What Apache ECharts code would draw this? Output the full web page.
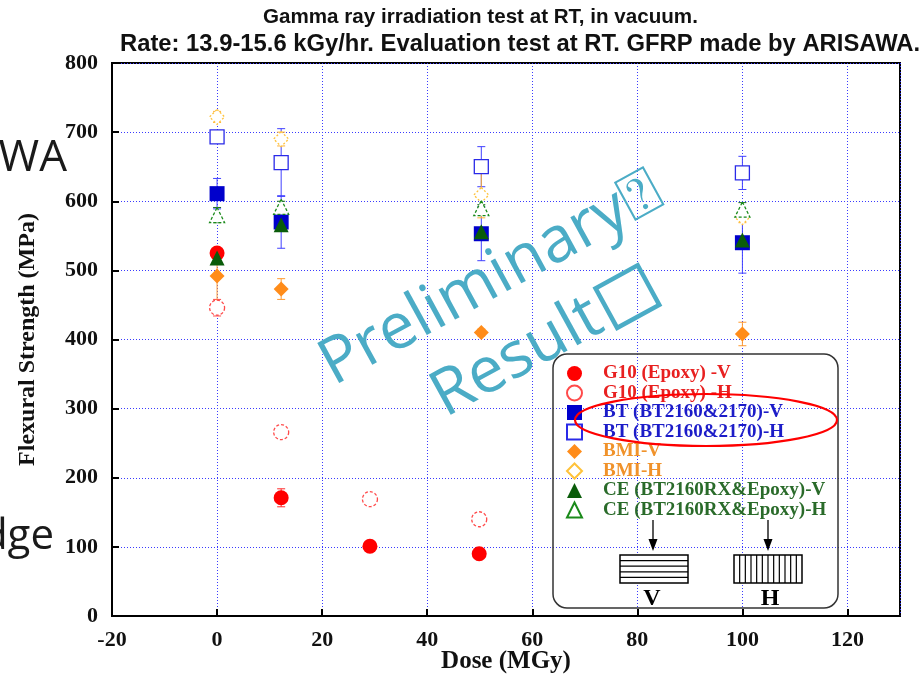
<!DOCTYPE html>
<html>
<head>
<meta charset="utf-8">
<title>Gamma ray irradiation test</title>
<script src="https://cdn.jsdelivr.net/npm/echarts@6/dist/echarts.min.js"></script>
<style>
  html, body { margin: 0; background: #fff; }
  #chart { width: 924px; height: 677px; }
</style>
</head>
<body>
<div id="chart"></div>
<script>
const chart = echarts.init(document.getElementById('chart'));

// dose (MGy)
const doseG10 = [0, 12.2, 29.1, 49.9];
const doseOther = [0, 12.2, 50.3, 100];

// flexural strength (MPa) and error half-widths
const g10V = [525, 171, 101, 90];
const g10VErr = [6, 13, 4, 4];
const g10H = [446, 266, 169, 140];
const g10HErr = [12, 8, 8, 8];
const btV = [611, 570, 553, 540];
const btVErr = [22, 38, 39, 44];
const btH = [693, 656, 650, 641];
const btHErr = [8, 49, 29, 24];
const bmiV = [492, 473, 410, 408];
const bmiVErr = [40, 15, 5, 17];
const bmiH = [722, 690, 609, 577];
const bmiHErr = [8, 10, 33, 8];
const ceV = [518, 566, 556, 544];
const ceVErr = [5, 8, 5, 5];
const ceH = [580, 592, 590, 588];
const ceHErr = [11, 8, 5, 10];

const groups = [
  { name: 'G10 (Epoxy) -V', x: doseG10, y: g10V, err: g10VErr, symbol: 'circle', size: 15,
    fill: '#ff0000', stroke: '#ff0000', dash: 'solid', bar: '#ff2a2a', text: '#e82020' },
  { name: 'G10 (Epoxy) -H', x: doseG10, y: g10H, err: g10HErr, symbol: 'circle', size: 15,
    fill: '#ffffff', stroke: '#ff4a4a', dash: [3, 2], bar: '#ff4a4a', text: '#e82020' },
  { name: 'BT (BT2160&2170)-V', x: doseOther, y: btV, err: btVErr, symbol: 'rect', size: 15,
    fill: '#0000cc', stroke: '#0000cc', dash: 'solid', bar: '#4040ff', text: '#1c1cc8' },
  { name: 'BT (BT2160&2170)-H', x: doseOther, y: btH, err: btHErr, symbol: 'rect', size: 14,
    fill: '#ffffff', stroke: '#2a2ae8', dash: 'solid', bar: '#4040ff', text: '#1c1cc8' },
  { name: 'BMI-V', x: doseOther, y: bmiV, err: bmiVErr, symbol: 'diamond', size: 15,
    fill: '#ff8c1a', stroke: '#ff8c1a', dash: 'solid', bar: '#ff9a30', text: '#f0922a' },
  { name: 'BMI-H', x: doseOther, y: bmiH, err: bmiHErr, symbol: 'diamond', size: 15,
    fill: '#ffffff', stroke: '#ffc23a', dash: [2, 2], bar: '#ffb030', text: '#f0922a' },
  { name: 'CE (BT2160RX&Epoxy)-V', x: doseOther, y: ceV, err: ceVErr, symbol: 'triangle', size: 15,
    fill: '#0a5c0a', stroke: '#0a5c0a', dash: 'solid', bar: '#1a6e1a', text: '#2a6b2a' },
  { name: 'CE (BT2160RX&Epoxy)-H', x: doseOther, y: ceH, err: ceHErr, symbol: 'triangle', size: 15,
    fill: '#ffffff', stroke: '#1a8a1a', dash: [3, 2], bar: '#1a6e1a', text: '#2a6b2a' }
];

function errorBar(color) {
  return (params, api) => {
    const x = api.value(0);
    const lo = api.coord([x, api.value(1)]);
    const hi = api.coord([x, api.value(2)]);
    const w = 4;
    const style = { stroke: color, lineWidth: 1 };
    return {
      type: 'group',
      children: [
        { type: 'line', shape: { x1: lo[0], y1: lo[1], x2: hi[0], y2: hi[1] }, style },
        { type: 'line', shape: { x1: hi[0] - w, y1: hi[1], x2: hi[0] + w, y2: hi[1] }, style },
        { type: 'line', shape: { x1: lo[0] - w, y1: lo[1], x2: lo[0] + w, y2: lo[1] }, style }
      ]
    };
  };
}

const series = [];
groups.forEach((g, k) => {
  series.push({
    type: 'custom',
    name: 'err' + k,
    silent: true,
    renderItem: errorBar(g.bar),
    encode: { x: 0, y: [1, 2] },
    data: g.x.map((v, i) => [v, g.y[i] - g.err[i], g.y[i] + g.err[i]])
  });
  series.push({
    type: 'scatter',
    name: g.name,
    symbol: g.symbol,
    symbolSize: g.size,
    itemStyle: { color: g.fill, borderColor: g.stroke, borderWidth: g.fill === '#ffffff' ? 1.3 : 0, borderType: g.dash, opacity: 1 },
    data: g.x.map((v, i) => [v, g.y[i]])
  });
});

const serif = 'Liberation Serif';
const gridLine = { color: '#3a3aff', type: [1, 2], width: 1 };
const teal = '#4bacc6';

const deco = [];
// legend frame
deco.push({ type: 'rect', shape: { x: 553, y: 354, width: 285, height: 254, r: 14 },
  style: { fill: 'none', stroke: '#333', lineWidth: 1.5 }, z: 5 });
// V specimen
deco.push({ type: 'rect', shape: { x: 620, y: 555, width: 68, height: 28 },
  style: { fill: '#fff', stroke: '#000', lineWidth: 1.5 }, z: 6 });
for (let i = 1; i < 5; i++) {
  const yy = 555 + i * 5.6;
  deco.push({ type: 'line', shape: { x1: 620, y1: yy, x2: 688, y2: yy }, style: { stroke: '#000', lineWidth: 1.2 }, z: 7 });
}
// H specimen
deco.push({ type: 'rect', shape: { x: 734, y: 555, width: 68, height: 28 },
  style: { fill: '#fff', stroke: '#000', lineWidth: 1.5 }, z: 6 });
for (let i = 1; i < 12; i++) {
  const xx = 734 + i * 68 / 12;
  deco.push({ type: 'line', shape: { x1: xx, y1: 555, x2: xx, y2: 583 }, style: { stroke: '#000', lineWidth: 1.2 }, z: 7 });
}
[653, 768].forEach((ax) => {
  deco.push({ type: 'line', shape: { x1: ax, y1: 520, x2: ax, y2: 542 }, style: { stroke: '#000', lineWidth: 1.3 }, z: 7 });
  deco.push({ type: 'polygon', shape: { points: [[ax - 4.5, 539], [ax + 4.5, 539], [ax, 551]] }, style: { fill: '#000' }, z: 7 });
});
deco.push({ type: 'text', x: 652, y: 599, z: 7,
  style: { text: 'V', font: 'bold 24px "Liberation Serif"', fill: '#000', align: 'center', verticalAlign: 'middle' } });
deco.push({ type: 'text', x: 770, y: 599, z: 7,
  style: { text: 'H', font: 'bold 24px "Liberation Serif"', fill: '#000', align: 'center', verticalAlign: 'middle' } });
// red ellipse
deco.push({ type: 'ellipse', shape: { cx: 706, cy: 420, rx: 131, ry: 26 },
  style: { fill: 'none', stroke: '#ff0000', lineWidth: 2.2 }, z: 60 });
// titles
deco.push({ type: 'text', x: 263, y: 17, z: 10,
  style: { text: 'Gamma ray irradiation test at RT, in vacuum.', font: 'bold 20.6px "Liberation Sans"', fill: '#111', verticalAlign: 'middle' } });
deco.push({ type: 'text', x: 120, y: 44, z: 10,
  style: { text: 'Rate: 13.9-15.6 kGy/hr. Evaluation test at RT. GFRP made by ARISAWA.', font: 'bold 23.8px "Liberation Sans"', fill: '#111', verticalAlign: 'middle' } });
// x axis name
deco.push({ type: 'text', x: 506, y: 662, z: 10,
  style: { text: 'Dose (MGy)', font: 'bold 25px "Liberation Serif"', fill: '#111', align: 'center', verticalAlign: 'middle' } });
// slide fragments behind the chart
deco.push({ type: 'text', x: 67, y: 158, z: 1,
  style: { text: 'AWA', font: '44px "Open Sans"', fill: '#1a1a1a', align: 'right', verticalAlign: 'middle' } });
deco.push({ type: 'text', x: 54, y: 537, z: 1,
  style: { text: 'dge', font: '42px "Open Sans"', fill: '#1a1a1a', align: 'right', verticalAlign: 'middle' } });
// watermark
const rot = 28.7 * Math.PI / 180;
deco.push({ type: 'text', x: 325, y: 370, rotation: rot, z: 80,
  style: { text: 'Preliminary⍰', font: '64px "Open Sans"', fill: teal, align: 'left', verticalAlign: 'middle' } });
deco.push({ type: 'group', x: 447, y: 421, rotation: rot, z: 80, children: [
  { type: 'text', x: 0, y: -22, z: 80,
    style: { text: 'Result', font: '64px "Open Sans"', fill: teal, align: 'left', verticalAlign: 'middle' } },
  { type: 'rect', shape: { x: 194, y: -45, width: 48, height: 45 }, z: 80,
    style: { fill: 'none', stroke: teal, lineWidth: 4.5 } }
] });

chart.setOption({
  backgroundColor: '#fff',
  animation: false,
  grid: { left: 112, top: 63, width: 788, height: 553, outerBoundsMode: 'none', containLabel: false,
    show: true, borderColor: '#000', borderWidth: 2 },
  xAxis: {
    type: 'value', min: -20, max: 130, interval: 20,
    axisLine: { show: true, onZero: false, lineStyle: { color: '#000', width: 2 } },
    axisTick: { show: true, inside: true, length: 7, lineStyle: { color: '#000', width: 2 } },
    axisLabel: { showMaxLabel: false, margin: 13, fontFamily: serif, fontWeight: 'bold', fontSize: 22, color: '#111' },
    splitLine: { show: true, lineStyle: gridLine }
  },
  yAxis: {
    type: 'value', min: 0, max: 800, interval: 100,
    name: 'Flexural Strength (MPa)', nameLocation: 'middle', nameGap: 72,
    nameTextStyle: { fontFamily: serif, fontWeight: 'bold', fontSize: 24, color: '#111' },
    axisLine: { show: true, onZero: false, lineStyle: { color: '#000', width: 2 } },
    axisTick: { show: true, inside: true, length: 7, lineStyle: { color: '#000', width: 2 } },
    axisLabel: { margin: 14, fontFamily: serif, fontWeight: 'bold', fontSize: 22, color: '#111' },
    splitLine: { show: true, lineStyle: gridLine }
  },
  legend: {
    orient: 'vertical', left: 561, top: 359,
    itemWidth: 15, itemHeight: 15, itemGap: 0.5,
    selectedMode: false,
    data: groups.map((g) => ({ name: g.name, textStyle: { color: g.text } })),
    textStyle: { fontFamily: serif, fontWeight: 'bold', fontSize: 19, lineHeight: 19, padding: [0, 0, 0, 16] }
  },
  graphic: deco,
  series
});
</script>
</body>
</html>
